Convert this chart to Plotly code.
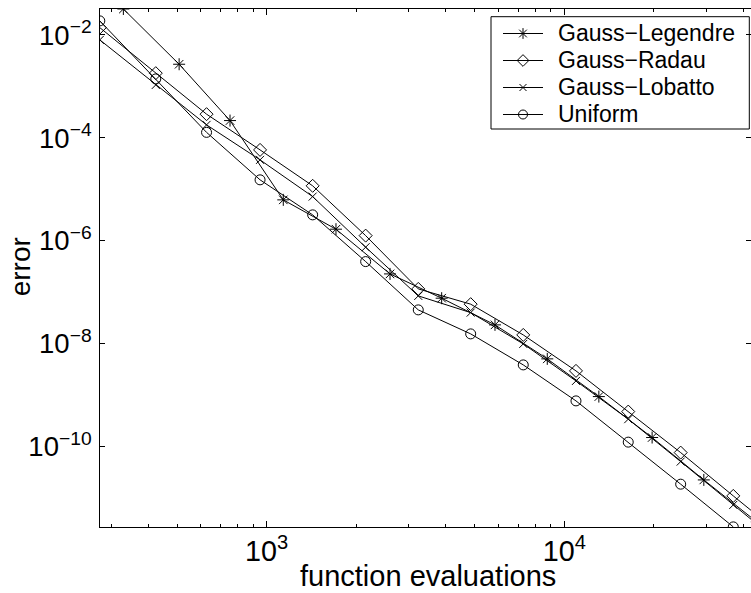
import plotly.graph_objects as go

# x values (function evaluations)
x_common = [275, 424, 628, 950, 1427, 2150, 3230, 4845, 7276, 10940, 16390, 24590, 36940]
x_common_ext = x_common + [55550]
x_legendre = [330, 508, 753, 1137, 1709, 2596, 3871, 5847, 8762, 13057, 19715, 29410, 44310]

# error values
y_legendre = [3.2e-2, 2.70e-3, 2.17e-4, 6.24e-6, 1.68e-6, 2.27e-7, 7.66e-8, 2.32e-8,
              5.07e-9, 9.37e-10, 1.50e-10, 2.25e-11, 3.44e-12]
y_radau = [1.39e-2, 1.81e-3, 2.89e-4, 5.84e-5, 1.17e-5, 1.26e-6, 1.16e-7, 5.86e-8,
           1.48e-8, 2.96e-9, 4.79e-10, 7.64e-11, 1.10e-11, 1.61e-12]
y_lobatto = [8.04e-3, 1.07e-3, 1.79e-4, 3.74e-5, 7.23e-6, 7.51e-7, 8.49e-8, 4.02e-8,
             9.91e-9, 1.89e-9, 3.41e-10, 5.11e-11, 7.36e-12, 1.07e-12]
y_uniform = [1.88e-2, 1.40e-3, 1.28e-4, 1.53e-5, 3.19e-6, 3.94e-7, 4.54e-8, 1.55e-8,
             3.87e-9, 7.73e-10, 1.22e-10, 1.86e-11, 2.75e-12]

names = ["Gauss\u2212Legendre", "Gauss\u2212Radau", "Gauss\u2212Lobatto", "Uniform"]
symbols = ["asterisk-open", "diamond-open", "x-thin-open", "circle-open"]
sizes = [10, 10, 8, 10]
FONT = "Liberation Sans, Arial, Helvetica, sans-serif"

# plot area in pixels (for paper-coordinate conversion of the legend)
L, R, T, B = 100, 751, 9, 527
def px(xp):
    return (xp - L) / (R - L)
def py(yp):
    return (B - yp) / (B - T)

fig = go.Figure()
data = [(x_legendre, y_legendre), (x_common_ext, y_radau),
        (x_common_ext, y_lobatto), (x_common, y_uniform)]
for (xs, ys), nm, sym, sz in zip(data, names, symbols, sizes):
    fig.add_trace(go.Scatter(
        x=xs, y=ys, name=nm, mode="lines+markers", showlegend=False,
        line=dict(color="black", width=1),
        marker=dict(symbol=sym, size=sz, color="black",
                    line=dict(color="black", width=1)),
    ))

# custom legend (MATLAB style)
row_y = [33.5, 60.5, 87.5, 114.5]
shapes = [dict(type="rect", xref="paper", yref="paper",
               x0=px(491), x1=px(749.3), y0=py(129), y1=py(16.7),
               line=dict(color="black", width=1), fillcolor="rgba(0,0,0,0)",
               layer="above")]
annotations = []
for ry, nm in zip(row_y, names):
    shapes.append(dict(type="line", xref="paper", yref="paper",
                       x0=px(503), x1=px(543), y0=py(ry), y1=py(ry),
                       line=dict(color="black", width=1), layer="above"))
    annotations.append(dict(text=nm, xref="paper", yref="paper",
                            x=px(556), y=py(ry), xanchor="left", yanchor="middle",
                            showarrow=False,
                            font=dict(family=FONT, size=23, color="black")))
for ry, sym, sz in zip(row_y, symbols, sizes):
    fig.add_trace(go.Scatter(
        x=[px(523)], y=[py(ry)], xaxis="x2", yaxis="y2", mode="markers",
        showlegend=False, hoverinfo="skip",
        marker=dict(symbol=sym, size=sz - 1, color="black",
                    line=dict(color="black", width=1)),
    ))

axis_common = dict(
    type="log", showline=True, linecolor="black", linewidth=1,
    mirror="ticks", ticks="inside", tickcolor="black", tickwidth=1,
    showgrid=False, zeroline=False, exponentformat="power",
)

fig.update_xaxes(**axis_common, range=[2.44, 4.627], dtick=1, ticklen=6,
                 tickfont=dict(family=FONT, size=23, color="black"),
                 minor=dict(ticks="inside", ticklen=3, tickcolor="black",
                            dtick="D1", showgrid=False))
fig.update_yaxes(**axis_common, range=[-11.563, -1.495], dtick=2, ticklen=5,
                 tickfont=dict(family=FONT, size=22, color="black"),
                 ticklabelstandoff=3)

annotations += [
    dict(text="function evaluations", xref="paper", yref="paper",
         x=0.504, y=-0.0946, xanchor="center", yanchor="middle",
         showarrow=False, font=dict(family=FONT, size=29, color="black")),
    dict(text="error", xref="paper", yref="paper",
         x=-0.122, y=0.5025, xanchor="center", yanchor="middle",
         textangle=-90, showarrow=False,
         font=dict(family=FONT, size=28, color="black")),
]

fig.update_layout(
    width=751, height=593,
    margin=dict(l=L, r=751 - R, t=T, b=593 - B),
    plot_bgcolor="white", paper_bgcolor="white",
    font=dict(family=FONT, color="black"),
    showlegend=False,
    xaxis2=dict(overlaying="x", range=[0, 1], visible=False, fixedrange=True),
    yaxis2=dict(overlaying="y", range=[0, 1], visible=False, fixedrange=True),
    shapes=shapes,
    annotations=annotations,
)

fig.write_html("out.html")
